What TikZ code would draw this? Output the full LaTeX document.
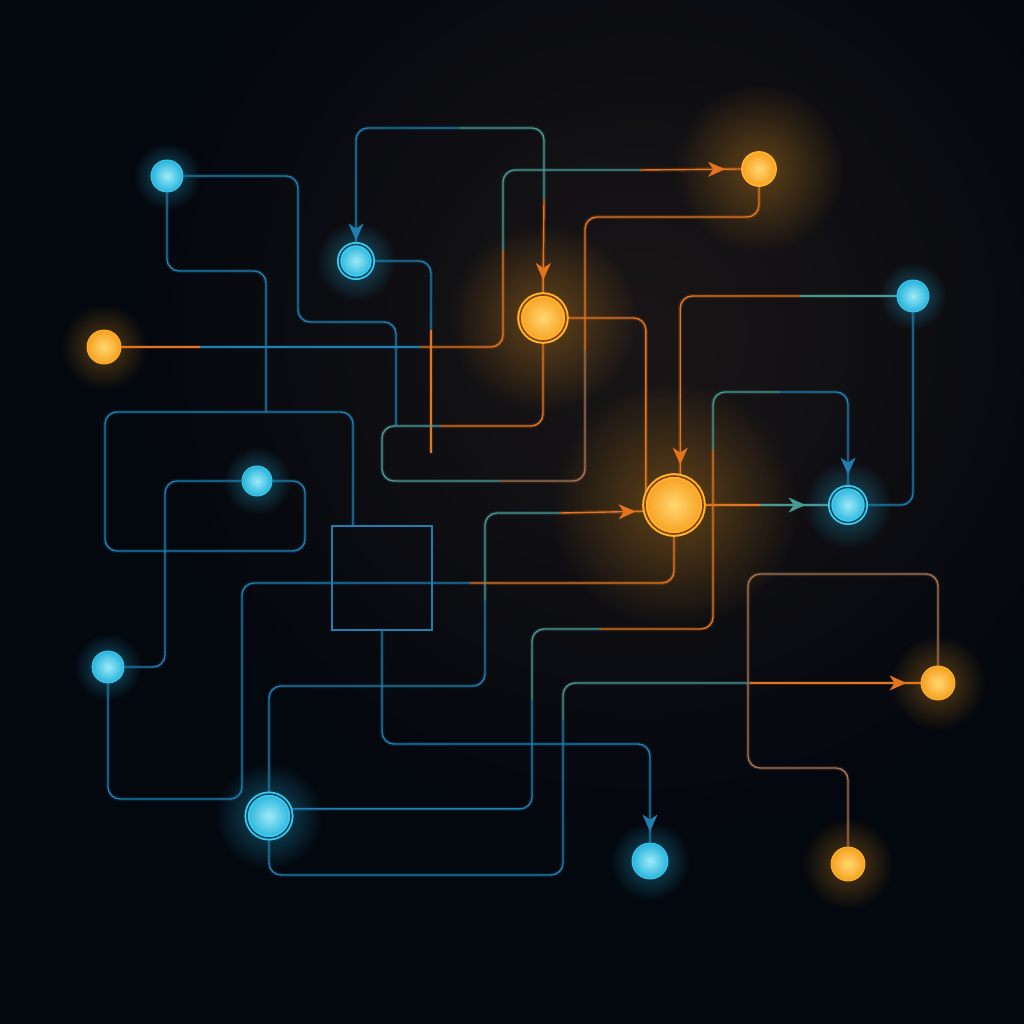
\documentclass[tikz,border=0pt]{standalone}
\usetikzlibrary{arrows.meta,fadings,calc,decorations.markings}

\definecolor{fundo}{HTML}{03070E}
\definecolor{azul}{HTML}{1E7FB0}
\definecolor{azulclaro}{HTML}{9EEAF6}
\definecolor{azulbola}{HTML}{26B4DE}
\definecolor{azulanel}{HTML}{3CCBEE}
\definecolor{azulescuro}{HTML}{0A4A68}
\definecolor{verde}{HTML}{4A9A94}
\definecolor{laranja}{HTML}{E4741E}
\definecolor{laranjaclaro}{HTML}{FFD870}
\definecolor{laranjabola}{HTML}{F7A020}
\definecolor{laranjaanel}{HTML}{FFB42C}
\definecolor{laranjaescuro}{HTML}{8A4008}
\definecolor{castanho}{HTML}{A87250}

\pgfdeclarelayer{atras}
\pgfdeclarelayer{linhas}
\pgfsetlayers{atras,linhas,main}

\tikzfading[name=brilho, inner color=transparent!0, outer color=transparent!100]

\tikzset{
  >={Stealth[length=17pt,width=15pt,inset=5pt]},
  linha/.style={draw=#1, line width=1.4pt, rounded corners=12pt,
    preaction={draw=#1, line width=4pt, opacity=0.18}},
  seta/.style={postaction={decorate, decoration={markings,
    mark=at position -#1 with {\arrow{>}}}}},
  noazul/.style={circle, inner sep=0pt, minimum size=#1, draw=azulanel,
    line width=0.9pt, inner color=azulclaro, outer color=azulbola},
  anelazul/.style={noazul=#1, line width=1.8pt, double=azulescuro,
    double distance=1.5pt},
  nolaranja/.style={circle, inner sep=0pt, minimum size=#1, draw=laranjaanel,
    line width=0.9pt, inner color=laranjaclaro, outer color=laranjabola},
  anellaranja/.style={nolaranja=#1, line width=2pt, double=laranjaescuro,
    double distance=1.6pt},
  quadro/.style={draw=azul, line width=1.4pt, minimum width=100pt,
    minimum height=104pt}
}

\begin{document}
\begin{tikzpicture}[x=1pt,y=-1pt]
  \useasboundingbox (0,0) rectangle (1024,1024);
  % Nós azuis
  \foreach \n/\x/\y/\d in {B1/167/176/32, B3/913/296/32, B5/257/481/30,
                           B6/108/667/32, B8/650/861/36}
    \node[noazul=\d pt] (\n) at (\x,\y) {};
  \foreach \n/\x/\y/\d in {B2/356/261/33, B4/848/505/35, B7/269/816/44}
    \node[anelazul=\d pt] (\n) at (\x,\y) {};
  % Nós laranja
  \foreach \n/\x/\y/\d in {O1/104/347/34, O5/938/683/34, O6/848/864/34}
    \node[nolaranja=\d pt] (\n) at (\x,\y) {};
  \node[nolaranja=34pt, line width=1.8pt] (O3) at (759,169) {};
  \foreach \n/\x/\y/\d in {O2/543/318/46, O4/674/505/58}
    \node[anellaranja=\d pt] (\n) at (\x,\y) {};
  % Quadrado
  \node[quadro] (Q) at (382,578) {};

  % Fundo e brilho
  \begin{pgfonlayer}{atras}
    \fill[fundo] (0,0) rectangle (1024,1024);
    \fill[castanho, path fading=brilho, fill opacity=0.14] (640,330) circle (520pt);
    \foreach \n/\r in {B1/34, B2/40, B3/34, B4/44, B5/34, B6/34, B7/54, B8/40}
      \fill[azulbola, path fading=brilho, fill opacity=0.45] (\n) circle (\r pt);
    \foreach \n/\r in {O1/44, O2/95, O3/85, O4/125, O5/48, O6/46}
      \fill[laranjabola, path fading=brilho, fill opacity=0.35] (\n) circle (\r pt);
  \end{pgfonlayer}

  % Ligações
  \begin{pgfonlayer}{linhas}
    \draw[linha=azul] (B1.east) -| (298,322) -| (396,426);
    \draw[linha=azul] (B1.south) |- (266,271) -- (266,412);
    \draw[linha=azul] (B5.east) -| (305,551) -| (105,412) -| ($(Q.north)+(-29,0)$);
    \draw[linha=azul] (B5.west) -| (165,667) -- (B6.east);
    \draw[linha=azul] (B6.south) |- (242,799) |- (470,583);
    \draw[linha=laranja] (470,583) -| (O4.south);
    \draw[linha=azul, seta=11pt] (Q.south) |- (650,744) -- (B8.north);
    % B7 para O4
    \draw[linha=azul] (B7.north) |- (485,686) -- (485,600);
    \draw[linha=verde] (485,600) |- (560,513);
    \draw[linha=laranja, seta=9pt] (560,513) -- (O4.192);
    % B7 para B4
    \draw[linha=azul] (B7.18) -| (532,700);
    \draw[linha=verde] (532,700) |- (600,629);
    \draw[linha=laranja] (600,629) -| (713,450);
    \draw[linha=verde] (713,450) |- (780,392);
    \draw[linha=azul, seta=12pt] (780,392) -| (B4.north);
    % B7 para O5
    \draw[linha=azul] (B7.south) |- (563,875) -- (563,720);
    \draw[linha=verde] (563,720) |- (750,683);
    \draw[linha=laranja, seta=14pt] (750,683) -- (O5.west);
    \draw[linha=castanho] (O5.north) |- (748,574) -- (748,768) -| (O6.north);
    % B3
    \draw[linha=azul] (B3.south) |- (B4.east);
    \draw[linha=verde] (B3.west) -- (800,296);
    \draw[linha=laranja, seta=11pt] (800,296) -| (O4.78);
    % O4 para B4
    \draw[linha=laranja] (O4.east) -- (760,505);
    \draw[linha=verde, seta=24pt] (760,505) -- (B4.west);
    \draw[linha=laranja] (O2.east) -| (O4.160);
    % B2 e O2
    \draw[linha=azul, seta=3pt] (460,128) -| (B2.north);
    \draw[linha=verde] (460,128) -| (544,200);
    \draw[linha=laranja, seta=14pt] (544,200) -- (O2.north);
    \draw[linha=azul] (B2.east) -| (431,330);
    \draw[linha=laranja] (431,330) -- (431,453);
    % O1 para O3
    \draw[linha=laranja] (O1.east) -- (200,347);
    \draw[linha=azul] (200,347) -- (420,347);
    \draw[linha=laranja] (420,347) -| (503,250);
    \draw[linha=verde] (503,250) |- (640,170);
    \draw[linha=laranja, seta=16pt] (640,170) -- (O3.west);
    % O2 para O3
    \draw[linha=laranja] (O2.south) |- (440,426);
    \draw[linha=verde] (440,426) -| (382,481) -- (500,481);
    \draw[linha=castanho] (500,481) -| (585,350);
    \draw[linha=laranja] (585,350) |- (700,217) -| (O3.south);
  \end{pgfonlayer}
\end{tikzpicture}
\end{document}
